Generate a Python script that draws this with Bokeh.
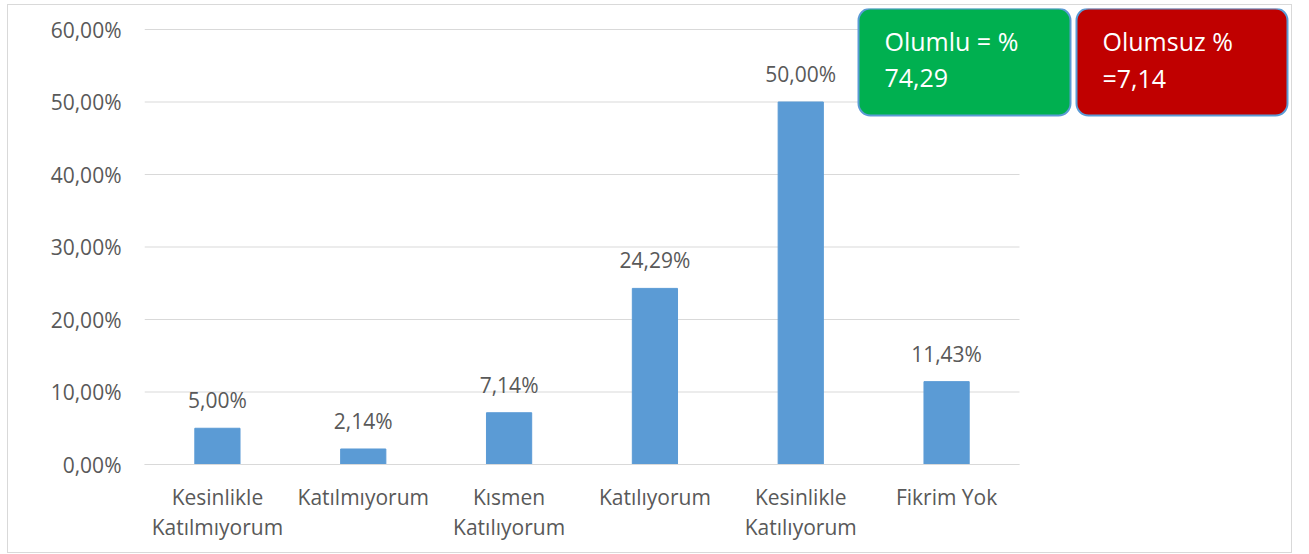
from bokeh.plotting import figure
from bokeh.models import (ColumnDataSource, Range1d, FixedTicker, LabelSet, Label,
                          BoxAnnotation)
from bokeh.core.properties import value
from bokeh.embed import file_html
from bokeh.resources import INLINE

# ---- data ----
categories = ["Kesinlikle\nKatılmıyorum", "Katılmıyorum", "Kısmen\nKatılıyorum",
              "Katılıyorum", "Kesinlikle\nKatılıyorum", "Fikrim Yok"]
values = [0.05, 0.0214, 0.0714, 0.2429, 0.50, 0.1143]
y_ticks = [0.0, 0.1, 0.2, 0.3, 0.4, 0.5, 0.6]
positive_lines = ["Olumlu = %", "74,29"]
negative_lines = ["Olumsuz %", "=7,14"]


def pct(v):
    return f"{v * 100:.2f}%".replace(".", ",")


FONT = "Open Sans"
TXT = "#595959"
FS = "21px"

n = len(categories)
xs = [i + 0.5 for i in range(n)]
src = ColumnDataSource(dict(x=xs, val=values, lab=[pct(v) for v in values]))

# the frame also holds the two summary boxes (top-right), so the ranges extend
# beyond the category area / 60% line
p = figure(x_range=Range1d(0, n * 1145 / 875), y_range=Range1d(0, 0.6 * 456 / 435),
           width=1285, height=549, output_backend="svg", toolbar_location=None,
           min_border_left=136, min_border_right=4, min_border_top=3,
           min_border_bottom=90)
p.styles = {"border": "1px solid #d9d9d9", "margin-left": "7px", "margin-top": "4px"}
p.outline_line_color = None
p.background_fill_color = "white"
p.border_fill_color = "white"
p.grid.visible = False

# horizontal gridlines limited to the category area
p.segment(x0=[0] * len(y_ticks), x1=[n] * len(y_ticks), y0=y_ticks, y1=y_ticks,
          line_color="#d9d9d9", line_width=1)

p.vbar(x="x", top="val", width=0.31, source=src, color="#5b9bd5")

p.add_layout(LabelSet(x="x", y="val", text="lab", source=src, text_align="center",
                      text_baseline="alphabetic", y_offset=20, text_font_size=FS,
                      text_font=value(FONT), text_color=TXT))

# axes
p.yaxis.ticker = FixedTicker(ticks=y_ticks)
p.yaxis.major_label_overrides = {t: pct(t) for t in y_ticks}
p.yaxis.axis_line_color = None
p.yaxis.major_tick_line_color = None
p.yaxis.minor_tick_line_color = None
p.yaxis.major_tick_out = 0
p.yaxis.major_tick_in = 0
p.yaxis.major_label_standoff = 23
p.yaxis.major_label_text_font_size = FS
p.yaxis.major_label_text_font = FONT
p.yaxis.major_label_text_color = TXT

p.xaxis.ticker = FixedTicker(ticks=xs)
p.xaxis.major_label_overrides = {x: c for x, c in zip(xs, categories)}
p.xaxis.bounds = (0, n)
p.xaxis.axis_line_color = "#d9d9d9"
p.xaxis.axis_line_width = 1
p.xaxis.major_tick_line_color = None
p.xaxis.minor_tick_line_color = None
p.xaxis.major_tick_out = 0
p.xaxis.major_tick_in = 0
p.xaxis.major_label_standoff = 18
p.xaxis.major_label_text_font_size = FS
p.xaxis.major_label_text_font = FONT
p.xaxis.major_label_text_color = TXT
p.xaxis.major_label_text_line_height = 1.1

# summary boxes (screen units, relative to the frame's bottom-left)
boxes = [
    (714, 926, "#00b050", 740, positive_lines),
    (932, 1143, "#c00000", 958, negative_lines),
]
for left, right, col, tx, lines in boxes:
    p.add_layout(BoxAnnotation(left=left, right=right, bottom=349, top=456,
                               left_units="screen", right_units="screen",
                               bottom_units="screen", top_units="screen",
                               fill_color=col, fill_alpha=1.0, line_color="#5b9bd5",
                               line_width=2, line_alpha=1.0, border_radius=12))
    for i, t in enumerate(lines):
        p.add_layout(Label(x=tx, y=424 - 37 * i, x_units="screen", y_units="screen",
                           text=t, text_color="white", text_font_size="25px",
                           text_font=FONT, text_baseline="alphabetic"))

open("out.html", "w").write(file_html(p, INLINE))
